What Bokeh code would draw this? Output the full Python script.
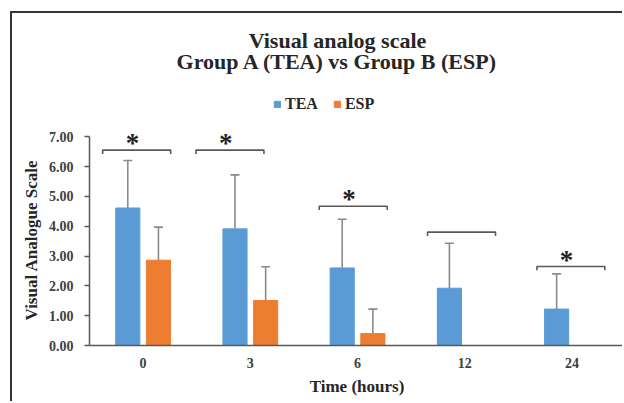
import numpy as np
from bokeh.plotting import figure
from bokeh.models import (ColumnDataSource, Range1d, FixedTicker, NumeralTickFormatter,
                          Whisker, TeeHead, Legend, LegendItem, Title, Label)
from bokeh.core.properties import value
from bokeh.embed import file_html
from bokeh.resources import INLINE

# ---- data ----
time_labels = ["0", "3", "6", "12", "24"]
tea_mean = [4.61, 3.91, 2.60, 1.92, 1.22]
tea_sd = [1.59, 1.81, 1.63, 1.51, 1.18]
esp_mean = [2.86, 1.51, 0.40, 0.00, 0.00]
esp_sd = [1.11, 1.13, 0.82, 0.00, 0.00]
bracket_height = [6.55, 6.55, 4.67, 3.80, 2.65]
bracket_shift = [-0.06, -0.19, -0.04, -0.03, -0.01]
significant = [True, True, True, False, True]
y_ticks = [0, 1, 2, 3, 4, 5, 6, 7]
series_names = ["TEA", "ESP"]
title_lines = ["Visual analog scale", "Group A (TEA) vs Group B (ESP)"]

TEA_COLOR = "#5B9BD5"
ESP_COLOR = "#ED7D31"
SERIF = "Liberation Serif"
TXT = "#262626"

idx = np.arange(len(time_labels))
dodge = 0.143
bar_w = 0.225

# frame reaches the top of the figure so that the title and legend sit inside it
p = figure(width=612, height=390, output_backend="svg", toolbar_location=None,
           x_range=Range1d(-0.5, 4.49), y_range=Range1d(0, 11.13),
           min_border_left=77, min_border_right=0, min_border_top=0, min_border_bottom=58)
p.margin = (11, 0, 0, 10)
p.outline_line_color = None
p.xgrid.visible = False
p.ygrid.visible = False
p.title.text = ""
p.title.visible = False
p.styles = {"border-left": "2px solid #333333", "border-top": "2px solid #333333"}

# bars
tea_src = ColumnDataSource(dict(x=idx - dodge, top=tea_mean,
                                upper=np.array(tea_mean) + np.array(tea_sd)))
r_tea = p.vbar(x="x", top="top", width=bar_w, source=tea_src,
               fill_color=TEA_COLOR, line_color=TEA_COLOR)
esp_all = ColumnDataSource(dict(x=idx + dodge, top=esp_mean))
r_esp = p.vbar(x="x", top="top", width=bar_w, source=esp_all,
               fill_color=ESP_COLOR, line_color=ESP_COLOR)

# error bars (upper only)
em = np.array(esp_mean); es = np.array(esp_sd)
mask = es > 0
esp_err = ColumnDataSource(dict(x=(idx + dodge)[mask], top=em[mask], upper=(em + es)[mask]))
for src in (tea_src, esp_err):
    w = Whisker(source=src, base="x", lower="top", upper="upper", dimension="height",
                line_color="#8a8a8a", line_width=1.6,
                upper_head=TeeHead(size=9, line_color="#8a8a8a", line_width=1.6),
                lower_head=None)
    p.add_layout(w)

# significance brackets
half = 0.317
drop = 0.13
bxs, bys = [], []
sx, sy = [], []
for i, (h, s, sig) in enumerate(zip(bracket_height, bracket_shift, significant)):
    c = i + s
    bxs.append([c - half, c - half, c + half, c + half])
    bys.append([h - drop, h, h, h - drop])
    if sig:
        sx.append(c - 0.04)
        sy.append(h + 0.23)
p.multi_line(bxs, bys, line_color="#595959", line_width=1.6)
p.text(x=sx, y=sy, text=["*"] * len(sx), text_font=value(SERIF), text_font_style="bold",
       text_font_size="27px", text_align="center", text_baseline="alphabetic",
       text_color="#222222")

# axes
for ax in (p.xaxis[0], p.yaxis[0]):
    ax.axis_line_color = "#595959"
    ax.axis_line_width = 1.5
    ax.major_tick_line_color = "#595959"
    ax.major_tick_line_width = 1.5
    ax.minor_tick_line_color = None
    ax.major_label_text_font = SERIF
    ax.major_label_text_font_style = "bold"
    ax.major_label_text_font_size = "14px"
    ax.major_label_text_color = "#404040"
    ax.axis_label_text_font = SERIF
    ax.axis_label_text_font_style = "bold"
    ax.axis_label_text_font_size = "17px"
    ax.axis_label_text_color = TXT

p.xaxis.ticker = FixedTicker(ticks=list(idx))
p.xaxis.major_label_overrides = {int(i): lab for i, lab in zip(idx, time_labels)}
p.xaxis.major_tick_out = 0
p.xaxis.major_tick_in = 0
p.xaxis.major_label_standoff = 12
p.xaxis.axis_label = "Time (hours)"
p.xaxis.axis_label_standoff = 6

p.yaxis.ticker = FixedTicker(ticks=y_ticks)
p.yaxis.formatter = NumeralTickFormatter(format="0.00")
p.yaxis.bounds = (0, 7)
p.yaxis.major_tick_out = 5
p.yaxis.major_tick_in = 0
p.yaxis.major_label_standoff = 11

# y-axis title, placed along the 0-7 part of the axis
p.add_layout(Title(text="Visual Analogue Scale", align="left", offset=25, standoff=9,
                   text_font=SERIF, text_font_style="bold", text_font_size="17px",
                   text_color=TXT), "left")

# legend
legend = Legend(items=[LegendItem(label=series_names[0], renderers=[r_tea]),
                       LegendItem(label=series_names[1], renderers=[r_esp])],
                orientation="horizontal", location=(184, 232),
                glyph_width=8, glyph_height=8, label_standoff=4, spacing=15,
                padding=0, margin=0, border_line_color=None, background_fill_alpha=0,
                label_text_font=SERIF, label_text_font_style="bold",
                label_text_font_size="16px", label_text_color=TXT)
p.add_layout(legend)

# two-line chart title
for line, ty in zip(title_lines, [10.22, 9.53]):
    p.add_layout(Label(x=1.813, y=ty, text=line, text_align="center",
                       text_baseline="alphabetic", text_font=SERIF,
                       text_font_style="bold", text_font_size="22px", text_color=TXT))

open("out.html", "w").write(file_html(p, INLINE))
